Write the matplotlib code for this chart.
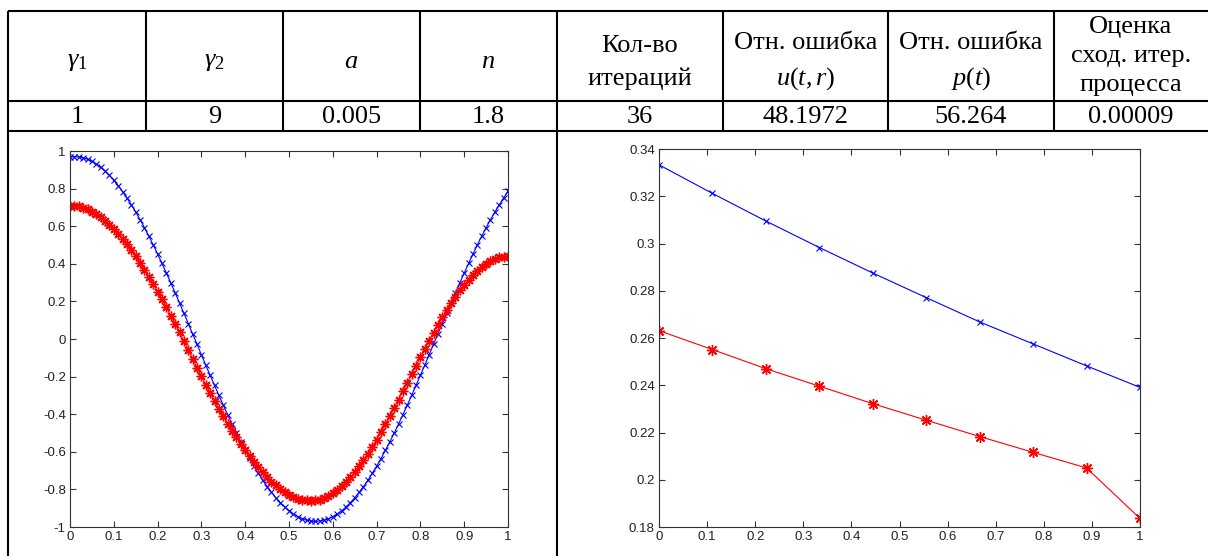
import matplotlib
matplotlib.use("Agg")
import matplotlib.pyplot as plt
import numpy as np

plt.rcParams['mathtext.fontset'] = 'custom'
plt.rcParams['mathtext.rm'] = 'Liberation Serif'
plt.rcParams['mathtext.it'] = 'Liberation Serif:italic'

# Table
headers = [r'$\gamma_1$', r'$\gamma_2$', r'$a$', r'$n$', 'Кол-во\nитераций',
           'Отн. ошибка\n' + r'$u(t,r)$', 'Отн. ошибка\n' + r'$p(t)$',
           'Оценка\nсход. итер.\nпроцесса']
values = ['1', '9', '0.005', '1.8', '36', '48.1972', '56.264', '0.00009']

# Left plot: u(r), 101 points
r = np.arange(101) / 100
u_blue = [
    0.968, 0.970, 0.968, 0.964, 0.956, 0.945, 0.930, 0.913, 0.893, 0.870,
    0.844, 0.816, 0.784, 0.750, 0.714, 0.675, 0.635, 0.592, 0.547, 0.501,
    0.452, 0.402, 0.351, 0.299, 0.246, 0.192, 0.137, 0.082, 0.027, -0.028,
    -0.084, -0.139, -0.193, -0.247, -0.300, -0.352, -0.403, -0.453, -0.501, -0.548,
    -0.592, -0.635, -0.676, -0.715, -0.751, -0.785, -0.816, -0.845, -0.870, -0.893,
    -0.913, -0.931, -0.945, -0.956, -0.964, -0.968, -0.970, -0.968, -0.964, -0.956,
    -0.945, -0.931, -0.914, -0.894, -0.871, -0.845, -0.816, -0.785, -0.752, -0.715,
    -0.677, -0.636, -0.592, -0.548, -0.501, -0.453, -0.403, -0.352, -0.300, -0.247,
    -0.193, -0.139, -0.084, -0.028, 0.027, 0.082, 0.137, 0.192, 0.246, 0.299,
    0.351, 0.402, 0.452, 0.501, 0.547, 0.592, 0.635, 0.675, 0.714, 0.750,
    0.786,
]
u_red = [
    0.710, 0.709, 0.705, 0.698, 0.690, 0.678, 0.664, 0.648, 0.629, 0.609,
    0.585, 0.560, 0.533, 0.503, 0.472, 0.439, 0.405, 0.369, 0.331, 0.292,
    0.252, 0.211, 0.168, 0.125, 0.081, 0.037, -0.010, -0.058, -0.105, -0.152,
    -0.198, -0.244, -0.288, -0.331, -0.372, -0.412, -0.450, -0.487, -0.522, -0.556,
    -0.589, -0.622, -0.653, -0.683, -0.710, -0.735, -0.759, -0.779, -0.798, -0.814,
    -0.828, -0.840, -0.849, -0.855, -0.859, -0.860, -0.858, -0.854, -0.846, -0.835,
    -0.821, -0.804, -0.784, -0.761, -0.736, -0.708, -0.678, -0.645, -0.610, -0.573,
    -0.535, -0.495, -0.454, -0.411, -0.367, -0.323, -0.278, -0.233, -0.187, -0.142,
    -0.097, -0.053, -0.009, 0.033, 0.075, 0.115, 0.153, 0.190, 0.225, 0.258,
    0.288, 0.316, 0.341, 0.364, 0.384, 0.401, 0.415, 0.426, 0.434, 0.438,
    0.440,
]

# Right plot: p(t), 10 points
t = np.arange(10) / 9
p_blue = [0.3333, 0.3212, 0.3095, 0.2983, 0.2875, 0.2771, 0.2668, 0.2575, 0.2482, 0.2391]
p_red = [0.2631, 0.2551, 0.2470, 0.2396, 0.2322, 0.2252, 0.2183, 0.2116, 0.2050, 0.1836]

W, H = 1208, 556
fig = plt.figure(figsize=(W / 100, H / 100), dpi=100)

# overlay in pixel coords for the table grid
ov = fig.add_axes([0, 0, 1, 1])
ov.set_xlim(0, W)
ov.set_ylim(H, 0)
ov.axis('off')

col_x = [8, 146, 283, 420, 557, 723, 888, 1054, 1208]
y_top, y_mid, y_bot = 11, 101, 131
lw = 1.5
for y in (y_top, y_mid, y_bot):
    ov.plot([col_x[0], W], [y, y], color='black', lw=lw, solid_capstyle='butt')
for x in col_x[:-1]:
    ov.plot([x, x], [y_top, y_bot], color='black', lw=lw, solid_capstyle='butt')
for x in (col_x[0], col_x[4]):
    ov.plot([x, x], [y_bot, H], color='black', lw=lw, solid_capstyle='butt')

for i in range(8):
    cx = (col_x[i] + col_x[i + 1]) / 2
    if i == 7:
        cx = 1131
        hy, ls = 56, 1.4
    else:
        hy, ls = 62, 1.6
    ov.text(cx, hy, headers[i], ha='center', va='center', fontsize=19,
            family='Liberation Serif', linespacing=ls)
    ov.text(cx, 117, values[i], ha='center', va='center', fontsize=19,
            family='Liberation Serif')

# asterisk like matlab '*'
star = (8, 2, 0)


def style(ax):
    ax.tick_params(direction='in', top=True, right=True, length=4, width=0.8,
                   labelsize=9.5, colors='#333333', labelcolor='#222222', pad=3)
    for s in ax.spines.values():
        s.set_color('#333333')
        s.set_linewidth(0.8)
    for lab in ax.get_xticklabels() + ax.get_yticklabels():
        lab.set_family('Liberation Sans')


def fmt(v):
    s = f"{v:.2f}".rstrip('0').rstrip('.')
    return '0' if s in ('-0', '') else s


ax1 = fig.add_axes([70 / W, 1 - 527 / H, 438 / W, 376 / H])
ax1.plot(r, u_blue, color='blue', lw=0.8, marker='x', ms=4.5, mew=0.8)
ax1.plot(r, u_red, color='red', lw=0.8, marker=star, ms=7, mew=1.0)
ax1.set_xlim(0, 1)
ax1.set_ylim(-1, 1)
xt = np.arange(0, 11) / 10
yt = np.arange(-5, 6) / 5
ax1.set_xticks(xt, [fmt(v) for v in xt])
ax1.set_yticks(yt, [fmt(v) for v in yt])
style(ax1)

ax2 = fig.add_axes([659 / W, 1 - 527 / H, 481 / W, 378 / H])
ax2.plot(t, p_blue, color='blue', lw=0.8, marker='x', ms=5, mew=0.8)
ax2.plot(t, p_red, color='red', lw=0.8, marker=star, ms=8, mew=1.0)
ax2.set_xlim(0, 1)
ax2.set_ylim(0.18, 0.34)
yt2 = np.arange(9, 18) / 50
ax2.set_xticks(xt, [fmt(v) for v in xt])
ax2.set_yticks(yt2, [fmt(v) for v in yt2])
style(ax2)

fig.savefig('out.png', dpi=100)
